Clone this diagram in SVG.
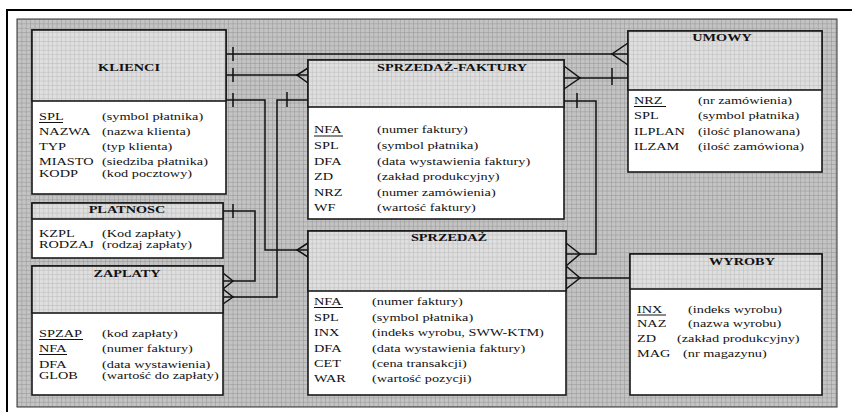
<svg xmlns="http://www.w3.org/2000/svg" width="852" height="412" viewBox="0 0 852 412">
  <defs>
    <pattern id="gridBg" patternUnits="userSpaceOnUse" x="17" y="19" width="4.4" height="4.4">
      <rect width="4.4" height="4.4" fill="#c4c4c4"/>
      <path d="M0 0.3H4.4M0.3 0V4.4" stroke="#999999" stroke-width="0.7"/>
    </pattern>
    <pattern id="gridHead" patternUnits="userSpaceOnUse" x="17" y="19" width="4.4" height="4.4">
      <rect width="4.4" height="4.4" fill="#dfdfdf"/>
      <path d="M0 0.3H4.4M0.3 0V4.4" stroke="#bdbdbd" stroke-width="0.7"/>
    </pattern>
  </defs>
  <style>
    .box { fill: #ffffff; stroke: #1a1a1a; stroke-width: 1.6; }
    .head { fill: url(#gridHead); stroke: #1a1a1a; stroke-width: 1.6; }
    .f { font-family: "Liberation Serif", "Times New Roman", serif; font-size: 11px; fill: #111; }
    .t { font-family: "Liberation Serif", "Times New Roman", serif; font-size: 11px; font-weight: bold; fill: #111; text-anchor: middle; }
    .ul { stroke: #111; stroke-width: 1; }
    .c { fill: none; stroke: #111; stroke-width: 1.5; }
  </style>

  <!-- sheet frame and grid background -->
  <rect x="7" y="10" width="860" height="420" fill="#ffffff" stroke="#000" stroke-width="2"/>
  <rect x="17" y="19" width="820" height="388" fill="url(#gridBg)" stroke="#333" stroke-width="1"/>

  <!-- relationships -->
  <g id="connectors" class="c">
    <!-- KLIENCI - UMOWY -->
    <path d="M226 54H628"/>
    <path d="M233 47V61"/>
    <path d="M628 43L612 54L628 65"/>
    <!-- KLIENCI - SPRZEDAZ-FAKTURY -->
    <path d="M222 75H308"/>
    <path d="M233 68V82"/>
    <path d="M308 68L297 75L308 83"/>
    <!-- KLIENCI - SPRZEDAZ -->
    <path d="M226 100H265V250H308"/>
    <path d="M233 93V107"/>
    <path d="M308 243L297 250L308 257"/>
    <!-- SPRZEDAZ-FAKTURY - ZAPLATY -->
    <path d="M308 100H277V297H223"/>
    <path d="M287 92V107"/>
    <path d="M223 289L233 297L223 304"/>
    <!-- PLATNOSC - ZAPLATY -->
    <path d="M223 211H255V281H223"/>
    <path d="M233 204V218"/>
    <path d="M223 273L233 281L223 289"/>
    <!-- SPRZEDAZ-FAKTURY - UMOWY -->
    <path d="M564 78H628"/>
    <path d="M612 68V85"/>
    <path d="M564 66L580 78L564 89"/>
    <!-- SPRZEDAZ-FAKTURY - SPRZEDAZ -->
    <path d="M564 101H596V254H566"/>
    <path d="M577 93V108"/>
    <path d="M566 243L580 254L566 266"/>
    <!-- SPRZEDAZ - WYROBY -->
    <path d="M566 278H630"/>
    <path d="M566 266L580 278L566 289"/>
  </g>

  <g id="klienci">
    <rect class="box" x="32" y="30" width="194" height="164"/>
    <rect class="head" x="32" y="30" width="194" height="71"/>
    <text class="t" transform="matrix(1.3 0 0 1 129 71)">KLIENCI</text>
    <text class="f" transform="matrix(1.3 0 0 1 39 120)">SPL</text>
    <line class="ul" x1="39" y1="122.5" x2="63" y2="122.5"/>
    <text class="f" transform="matrix(1.3 0 0 1 102 120)">(symbol płatnika)</text>
    <text class="f" transform="matrix(1.3 0 0 1 39 135)">NAZWA</text>
    <text class="f" transform="matrix(1.3 0 0 1 102 135)">(nazwa klienta)</text>
    <text class="f" transform="matrix(1.3 0 0 1 39 150)">TYP</text>
    <text class="f" transform="matrix(1.3 0 0 1 102 150)">(typ klienta)</text>
    <text class="f" transform="matrix(1.3 0 0 1 39 165)">MIASTO</text>
    <text class="f" transform="matrix(1.3 0 0 1 102 165)">(siedziba płatnika)</text>
    <text class="f" transform="matrix(1.3 0 0 1 39 177)">KODP</text>
    <text class="f" transform="matrix(1.3 0 0 1 102 177)">(kod pocztowy)</text>
  </g>

  <g id="sprzedaz-faktury">
    <rect class="box" x="308" y="60" width="256" height="159"/>
    <rect class="head" x="308" y="60" width="256" height="47"/>
    <text class="t" transform="matrix(1.3 0 0 1 452 71)">SPRZEDAŻ-FAKTURY</text>
    <text class="f" transform="matrix(1.3 0 0 1 314 133)">NFA</text>
    <line class="ul" x1="314" y1="136" x2="343" y2="136"/>
    <text class="f" transform="matrix(1.3 0 0 1 377 133)">(numer faktury)</text>
    <text class="f" transform="matrix(1.3 0 0 1 314 149)">SPL</text>
    <text class="f" transform="matrix(1.3 0 0 1 377 149)">(symbol płatnika)</text>
    <text class="f" transform="matrix(1.3 0 0 1 314 165)">DFA</text>
    <text class="f" transform="matrix(1.3 0 0 1 377 165)">(data wystawienia faktury)</text>
    <text class="f" transform="matrix(1.3 0 0 1 314 180)">ZD</text>
    <text class="f" transform="matrix(1.3 0 0 1 377 180)">(zakład produkcyjny)</text>
    <text class="f" transform="matrix(1.3 0 0 1 314 196)">NRZ</text>
    <text class="f" transform="matrix(1.3 0 0 1 377 196)">(numer zamówienia)</text>
    <text class="f" transform="matrix(1.3 0 0 1 314 211)">WF</text>
    <text class="f" transform="matrix(1.3 0 0 1 377 211)">(wartość faktury)</text>
  </g>

  <g id="umowy">
    <rect class="box" x="628" y="31" width="194" height="141"/>
    <rect class="head" x="628" y="31" width="194" height="59"/>
    <text class="t" transform="matrix(1.3 0 0 1 722 41)">UMOWY</text>
    <text class="f" transform="matrix(1.3 0 0 1 634 104)">NRZ</text>
    <line class="ul" x1="634" y1="106.5" x2="666" y2="106.5"/>
    <text class="f" transform="matrix(1.3 0 0 1 698 104)">(nr zamówienia)</text>
    <text class="f" transform="matrix(1.3 0 0 1 634 119)">SPL</text>
    <text class="f" transform="matrix(1.3 0 0 1 698 119)">(symbol płatnika)</text>
    <text class="f" transform="matrix(1.3 0 0 1 634 134.5)">ILPLAN</text>
    <text class="f" transform="matrix(1.3 0 0 1 698 134.5)">(ilość planowana)</text>
    <text class="f" transform="matrix(1.3 0 0 1 634 150)">ILZAM</text>
    <text class="f" transform="matrix(1.3 0 0 1 698 150)">(ilość zamówiona)</text>
  </g>

  <g id="platnosc">
    <rect class="box" x="32" y="203" width="191" height="55"/>
    <rect class="head" x="32" y="203" width="191" height="16"/>
    <text class="t" transform="matrix(1.3 0 0 1 127 213)">PLATNOSC</text>
    <text class="f" transform="matrix(1.3 0 0 1 39 237)">KZPL</text>
    <text class="f" transform="matrix(1.3 0 0 1 102 237)">(Kod zapłaty)</text>
    <text class="f" transform="matrix(1.3 0 0 1 39 247.5)">RODZAJ</text>
    <text class="f" transform="matrix(1.3 0 0 1 102 247.5)">(rodzaj zapłaty)</text>
  </g>

  <g id="zaplaty">
    <rect class="box" x="32" y="266" width="191" height="129"/>
    <rect class="head" x="32" y="266" width="191" height="47"/>
    <text class="t" transform="matrix(1.3 0 0 1 127 277)">ZAPLATY</text>
    <text class="f" transform="matrix(1.3 0 0 1 39 337)">SPZAP</text>
    <line class="ul" x1="39" y1="339.5" x2="83" y2="339.5"/>
    <text class="f" transform="matrix(1.3 0 0 1 102 337)">(kod zapłaty)</text>
    <text class="f" transform="matrix(1.3 0 0 1 39 352)">NFA</text>
    <line class="ul" x1="39" y1="354.5" x2="67" y2="354.5"/>
    <text class="f" transform="matrix(1.3 0 0 1 102 352)">(numer faktury)</text>
    <text class="f" transform="matrix(1.3 0 0 1 39 368)">DFA</text>
    <text class="f" transform="matrix(1.3 0 0 1 102 368)">(data wystawienia)</text>
    <text class="f" transform="matrix(1.3 0 0 1 39 379)">GLOB</text>
    <text class="f" transform="matrix(1.3 0 0 1 102 379)">(wartość do zapłaty)</text>
  </g>

  <g id="sprzedaz">
    <rect class="box" x="308" y="231" width="258" height="164"/>
    <rect class="head" x="308" y="231" width="258" height="60"/>
    <text class="t" transform="matrix(1.3 0 0 1 449 241)">SPRZEDAŻ</text>
    <text class="f" transform="matrix(1.3 0 0 1 314 305)">NFA</text>
    <line class="ul" x1="314" y1="307.5" x2="343" y2="307.5"/>
    <text class="f" transform="matrix(1.3 0 0 1 372 305)">(numer faktury)</text>
    <text class="f" transform="matrix(1.3 0 0 1 314 320.5)">SPL</text>
    <text class="f" transform="matrix(1.3 0 0 1 372 320.5)">(symbol płatnika)</text>
    <text class="f" transform="matrix(1.3 0 0 1 314 336)">INX</text>
    <text class="f" transform="matrix(1.3 0 0 1 372 336)">(indeks wyrobu, SWW-KTM)</text>
    <text class="f" transform="matrix(1.3 0 0 1 314 351.5)">DFA</text>
    <text class="f" transform="matrix(1.3 0 0 1 372 351.5)">(data wystawienia faktury)</text>
    <text class="f" transform="matrix(1.3 0 0 1 314 367)">CET</text>
    <text class="f" transform="matrix(1.3 0 0 1 372 367)">(cena transakcji)</text>
    <text class="f" transform="matrix(1.3 0 0 1 314 382)">WAR</text>
    <text class="f" transform="matrix(1.3 0 0 1 372 382)">(wartość pozycji)</text>
  </g>

  <g id="wyroby">
    <rect class="box" x="630" y="254" width="192" height="141"/>
    <rect class="head" x="630" y="254" width="192" height="35"/>
    <text class="t" transform="matrix(1.3 0 0 1 742 265)">WYROBY</text>
    <text class="f" transform="matrix(1.3 0 0 1 637 312.5)">INX</text>
    <line class="ul" x1="637" y1="315" x2="666" y2="315"/>
    <text class="f" transform="matrix(1.3 0 0 1 688 312.5)">(indeks wyrobu)</text>
    <text class="f" transform="matrix(1.3 0 0 1 637 327)">NAZ</text>
    <text class="f" transform="matrix(1.3 0 0 1 688 327)">(nazwa wyrobu)</text>
    <text class="f" transform="matrix(1.3 0 0 1 637 342)">ZD</text>
    <text class="f" transform="matrix(1.3 0 0 1 677 342)">(zakład produkcyjny)</text>
    <text class="f" transform="matrix(1.3 0 0 1 637 356.5)">MAG</text>
    <text class="f" transform="matrix(1.3 0 0 1 683 356.5)">(nr magazynu)</text>
  </g>
</svg>
